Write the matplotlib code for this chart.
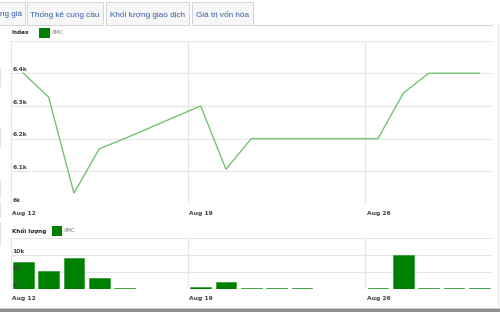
import matplotlib
matplotlib.use("Agg")
import matplotlib.pyplot as plt
import matplotlib.transforms as mtransforms
import pandas as pd
from matplotlib.patches import Rectangle

# chart values
tab_names = ["ng giá", "Thống kê cung cầu", "Khối lượng giao dịch", "Giá trị vốn hóa"]
series_name = "XMC"
dates = ["2013-08-12", "2013-08-13", "2013-08-14", "2013-08-15", "2013-08-16",
         "2013-08-19", "2013-08-20", "2013-08-21", "2013-08-22", "2013-08-23",
         "2013-08-26", "2013-08-27", "2013-08-28", "2013-08-29", "2013-08-30"]
price = [6400, 6327, 6033, 6169, 6200, 6300, 6106, 6200, 6200, 6200,
         6200, 6339, 6400, 6400, 6400]
volume = [8170, 5500, 9230, 3230, 450, 570, 2170, 450, 450, 450,
          450, 10000, 450, 450, 450]
price_ticks = [6000, 6100, 6200, 6300, 6400, 6500]
price_labels = ["6k", "6.1k", "6.2k", "6.3k", "6.4k", ""]
vol_ticks = [0, 5000, 10000, 15000]
vol_labels = ["0", "5k", "10k", ""]
date_ticks = ["2013-08-12", "2013-08-19", "2013-08-26"]
date_labels = ["Aug 12", "Aug 19", "Aug 26"]
x_start, x_end = "2013-08-12", "2013-08-31"

W, H = 500, 312
LINE = "#74c374"
BAR = "#008000"
GRID = "#e6e6e6"
TEXT = "#444444"
TAB_TEXT = "#2f5fa8"

fig = plt.figure(figsize=(W / 100, H / 100), dpi=100)
fig.patch.set_facecolor("white")


def fx(px):
    return px / W


def fy(py):
    return 1 - py / H


def rect(x0, y0, x1, y1, **kw):
    fig.add_artist(Rectangle((fx(x0), fy(y1)), fx(x1) - fx(x0), (y1 - y0) / H,
                             transform=fig.transFigure, **kw))


def hline(y, x0, x1, color="#d6d6d6", lw=0.8):
    fig.add_artist(plt.Line2D([fx(x0), fx(x1)], [fy(y), fy(y)], color=color, lw=lw,
                              transform=fig.transFigure))


def vline(x, y0, y1, color="#d6d6d6", lw=0.8):
    fig.add_artist(plt.Line2D([fx(x), fx(x)], [fy(y0), fy(y1)], color=color, lw=lw,
                              transform=fig.transFigure))


# tabs across the top
tab_spans = [(-6, 25), (27, 103), (106, 189), (192, 253)]
for name, (a, b) in zip(tab_names, tab_spans):
    rect(a, 2, b, 24.5, facecolor="#f7f7f7", edgecolor="#d4d4d4", lw=0.7)
    if a < 0:
        fig.text(fx(0.3), fy(15), name, ha="left", va="center",
                 fontsize=5.9, color=TAB_TEXT, family="Liberation Sans")
    else:
        fig.text(fx((a + b) / 2), fy(15), name, ha="center", va="center",
                 fontsize=5.9, color=TAB_TEXT, family="Liberation Sans")
hline(24.5, 253, 492)
vline(498, 25, 306, color="#e4e4e4")

# cut-off bits at the left border and shadow at the bottom
for y0, y1 in [(68, 87), (128, 148), (180, 198), (202, 218), (222, 246)]:
    rect(0, y0, 1.2, y1, facecolor="#e2e2e2", edgecolor="none")
rect(0, 307.5, W, 309, facecolor="#cccccc", edgecolor="none")
rect(0, 309, W, 312, facecolor="#8f8f8f", edgecolor="none")

x = pd.to_datetime(dates) + pd.Timedelta(hours=12)
xt = pd.to_datetime(date_ticks)


def panel(top, bottom, ticks, labels, title, sq_x, label_gap):
    ax = fig.add_axes([fx(10.6), fy(bottom), fx(492) - fx(10.6), (bottom - top) / H])
    ax.set_xlim(pd.Timestamp(x_start), pd.Timestamp(x_end))
    ax.set_ylim(ticks[0], ticks[-1])
    for s in ax.spines.values():
        s.set_visible(False)
    ax.set_xticks([])
    ax.set_yticks([])
    for t in ticks:
        ax.axhline(t, color=GRID, lw=0.8, zorder=0)
    for t in xt:
        ax.axvline(t, color=GRID, lw=0.8, zorder=0)
    up = mtransforms.offset_copy(ax.get_yaxis_transform(), fig=fig, x=2, y=1.2, units="dots")
    for t, lab in zip(ticks, labels):
        ax.text(0, t, lab, transform=up, ha="left", va="bottom", zorder=6,
                fontsize=4.3, color=TEXT, fontweight="bold", clip_on=False)
    down = mtransforms.offset_copy(ax.get_xaxis_transform(), fig=fig, x=1.5, y=-label_gap,
                                   units="dots")
    for t, lab in zip(xt, date_labels):
        ax.text(t, 0, lab, transform=down, ha="left", va="center",
                fontsize=4.3, color=TEXT, fontweight="bold", clip_on=False)
    # header: title + legend swatch
    title_y = top - 7.5
    fig.text(fx(12), fy(title_y), title, ha="left", va="center", fontsize=4.1,
             fontweight="bold", color="#222222")
    rect(sq_x, title_y - 5, sq_x + 10.5, title_y + 5, facecolor=BAR, edgecolor="none")
    fig.text(fx(sq_x + 12.5), fy(title_y), series_name, ha="left", va="center",
             fontsize=3.8, color="#777777")
    return ax


ax_p = panel(40.5, 204, price_ticks, price_labels, "Index", 39, 9.7)
ax_p.plot(x, price, color=LINE, lw=1.0, solid_joinstyle="miter", zorder=3)

ax_v = panel(238.3, 289.3, vol_ticks, vol_labels, "Khối lượng", 51.7, 9.4)
ax_v.bar(x, volume, width=0.82, color=BAR, edgecolor="#1d8f1d", lw=0.4, zorder=3)

fig.savefig("out.png", dpi=100, facecolor="white")
